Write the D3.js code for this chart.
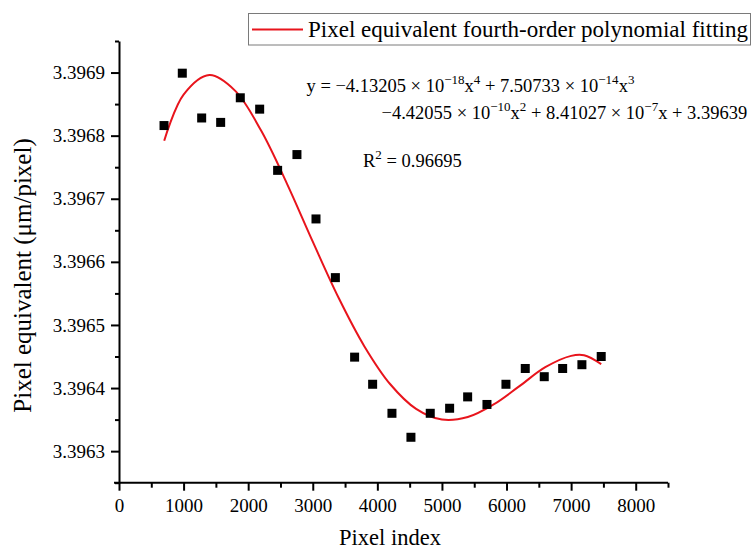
<!DOCTYPE html>
<html>
<head>
<meta charset="utf-8">
<script src="https://cdn.jsdelivr.net/npm/d3@7"></script>
<style>
  html, body { margin: 0; padding: 0; background: #fff; }
  svg { display: block; }
  text { font-family: "Liberation Serif", "Times New Roman", serif; fill: #000; }
</style>
</head>
<body>
<svg id="chart" width="752" height="551"></svg>
<script>
// ---- data ----
const pixelIndex = [697, 980, 1280, 1574, 1878, 2178, 2456, 2755, 3050, 3350, 3648, 3927,
                    4226, 4520, 4819, 5119, 5398, 5697, 5991, 6290, 6584, 6869, 7167, 7466];
const pixelEquivalent = [3.396816, 3.396899, 3.396828, 3.396821, 3.396860, 3.396842, 3.396745, 3.396770,
                         3.396668, 3.396575, 3.396449, 3.396406, 3.396360, 3.396322, 3.396360, 3.396368,
                         3.396386, 3.396374, 3.396406, 3.396431, 3.396418, 3.396431, 3.396437, 3.396450];
// fitted curve samples
const fitX = [700, 1000, 1400, 1800, 2200, 2600, 3000, 3400, 3800, 4200, 4600, 5000, 5400, 5800, 6200, 6600, 7000, 7200, 7466];
const fitY = [3.396792, 3.396865, 3.396896, 3.396871, 3.396808, 3.396724, 3.396632, 3.396543, 3.396466, 3.396406,
              3.396367, 3.396350, 3.396354, 3.396374, 3.396403, 3.396433, 3.396451, 3.396452, 3.396438];
const xTicks = [0, 1000, 2000, 3000, 4000, 5000, 6000, 7000, 8000];
const xMinorTicks = [500, 1500, 2500, 3500, 4500, 5500, 6500, 7500, 8500];
const yTicks = [3.3963, 3.3964, 3.3965, 3.3966, 3.3967, 3.3968, 3.3969];
const yMinorTicks = [3.39625, 3.39635, 3.39645, 3.39655, 3.39665, 3.39675, 3.39685, 3.39695];
const legendLabel = "Pixel equivalent fourth-order polynomial fitting";
const xTitle = "Pixel index";
const yTitle = "Pixel equivalent (μm/pixel)";

// ---- chart ----
const svg = d3.select("#chart");
const x = d3.scaleLinear().domain([0, 8500]).range([119, 668]);
const y = d3.scaleLinear().domain([3.39625, 3.39695]).range([482.7, 41]);
const axisColor = "#000";

// x axis
const gx = svg.append("g").attr("transform", `translate(0,${y.range()[0]})`);
gx.call(d3.axisBottom(x).tickValues(xTicks).tickSize(8).tickPadding(8).tickFormat(d3.format("d")).tickSizeOuter(0));
gx.call(g => g.append("g").call(d3.axisBottom(x).tickValues(xMinorTicks).tickSize(5).tickFormat("").tickSizeOuter(0))
  .select(".domain").remove());
gx.selectAll(".domain").attr("stroke", axisColor).attr("stroke-width", 2)
  .attr("d", `M${x(0) - 5},0H${x(8500)}`);
gx.selectAll(".tick line").attr("stroke", axisColor).attr("stroke-width", 2);
gx.selectAll(".tick text").attr("font-size", 19).attr("font-family", "Liberation Serif");

// y axis
const gy = svg.append("g").attr("transform", `translate(${x(0)},0)`);
gy.call(d3.axisLeft(y).tickValues(yTicks).tickSize(8).tickPadding(6).tickFormat(d3.format(".4f")).tickSizeOuter(0));
gy.call(g => g.append("g").call(d3.axisLeft(y).tickValues(yMinorTicks).tickSize(4).tickFormat("").tickSizeOuter(0))
  .select(".domain").remove());
gy.selectAll(".domain").attr("stroke", axisColor).attr("stroke-width", 2);
gy.selectAll(".tick line").attr("stroke", axisColor).attr("stroke-width", 2);
gy.selectAll(".tick text").attr("font-size", 19).attr("font-family", "Liberation Serif");

// axis titles
svg.append("text").attr("x", 390).attr("y", 545).attr("text-anchor", "middle")
  .attr("font-size", 22.5).text(xTitle);
svg.append("text").attr("transform", "translate(31,275.5) rotate(-90)").attr("text-anchor", "middle")
  .attr("font-size", 25).text(yTitle);

// fit curve
const line = d3.line().x(d => x(d[0])).y(d => y(d[1])).curve(d3.curveCatmullRom.alpha(0.5));
svg.append("path").datum(fitX.map((v, i) => [v, fitY[i]]))
  .attr("d", line).attr("fill", "none").attr("stroke", "#e8141c").attr("stroke-width", 2);

// scatter points
const sz = 9;
svg.append("g").selectAll("rect").data(pixelIndex.map((v, i) => [v, pixelEquivalent[i]]))
  .join("rect")
  .attr("x", d => x(d[0]) - sz / 2).attr("y", d => y(d[1]) - sz / 2)
  .attr("width", sz).attr("height", sz).attr("fill", "#000");

// legend
const lg = svg.append("g");
lg.append("rect").attr("x", 248.5).attr("y", 13.5).attr("width", 502).attr("height", 31.5)
  .attr("fill", "#fff").attr("stroke", "#7a7a7a").attr("stroke-width", 1);
lg.append("line").attr("x1", 252).attr("x2", 303).attr("y1", 29.5).attr("y2", 29.5)
  .attr("stroke", "#e8141c").attr("stroke-width", 2);
lg.append("text").attr("x", 308).attr("y", 37).attr("font-size", 23)
  .attr("textLength", 440).attr("lengthAdjust", "spacingAndGlyphs").text(legendLabel);

// equation
function eq(xp, yp, parts) {
  const t = svg.append("text").attr("x", xp).attr("y", yp).attr("font-size", 18.5);
  let sup = false;
  parts.forEach(p => {
    const isSup = p.startsWith("^");
    const txt = isSup ? p.slice(1) : p;
    const ts = t.append("tspan").text(txt);
    if (isSup && !sup) { ts.attr("dy", -7.5).attr("font-size", 13); sup = true; }
    else if (isSup) { ts.attr("font-size", 13); }
    else if (!isSup && sup) { ts.attr("dy", 7.5); sup = false; }
  });
  return t;
}
eq(306.5, 91.5, ["y = −4.13205 × 10", "^−18", "x", "^4", " + 7.50733 × 10", "^−14", "x", "^3"]);
eq(381.5, 118.5, ["−4.42055 × 10", "^−10", "x", "^2", " + 8.41027 × 10", "^−7", "x + 3.39639"]);
eq(363, 166.5, ["R", "^2", " = 0.96695"]);
</script>
</body>
</html>
